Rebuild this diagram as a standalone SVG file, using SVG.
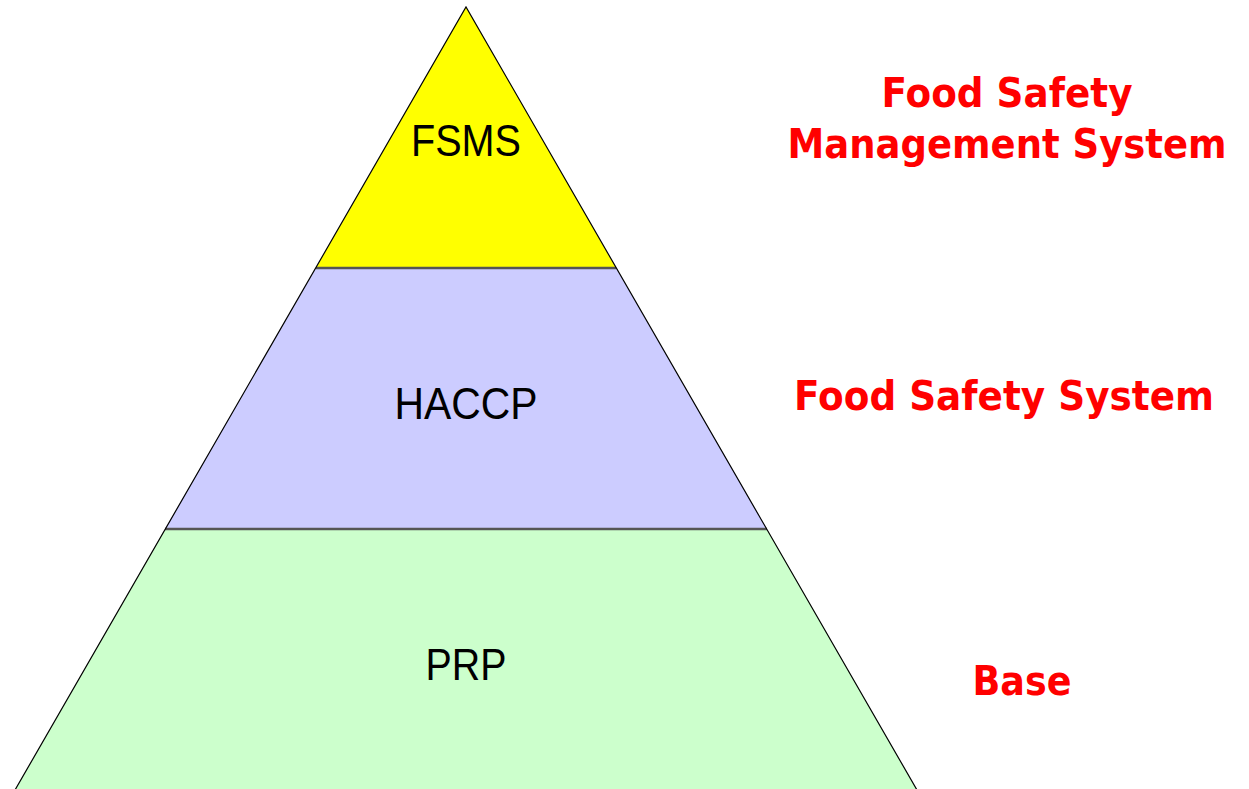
<svg xmlns="http://www.w3.org/2000/svg" width="1249" height="789" viewBox="0 0 1249 789">
<style>
.lbl{font-family:"Liberation Sans",Arial,sans-serif;font-size:45px;fill:#000;text-anchor:middle}
.red{font-family:"DejaVu Sans","Liberation Sans",sans-serif;font-weight:bold;font-size:40px;fill:#FF0000;text-anchor:middle}
.edge{stroke:#000;stroke-width:1.2;fill:none}
.div{stroke:#555;stroke-width:2.5;fill:none}
</style>
<rect width="1249" height="789" fill="#fff"/>
<g id="fsms">
<polygon points="466,7 316,268 616,268" fill="#FFFF00"/>
<text class="lbl" x="466" y="156" textLength="110" lengthAdjust="spacingAndGlyphs">FSMS</text>
</g>
<g id="haccp">
<polygon points="316,268 616,268 767,529 165,529" fill="#CCCCFF"/>
<text class="lbl" x="466" y="419" textLength="143" lengthAdjust="spacingAndGlyphs">HACCP</text>
</g>
<g id="prp">
<polygon points="165,529 767,529 917,790 15,790" fill="#CCFFCC"/>
<text class="lbl" x="466" y="680" textLength="81" lengthAdjust="spacingAndGlyphs">PRP</text>
</g>
<g id="connectors">
<line class="div" x1="316" y1="268" x2="616" y2="268"/>
<line class="div" x1="165" y1="529" x2="767" y2="529"/>
<polyline class="edge" points="15,790 466,7 917,790"/>
</g>
<g id="labels">
<text class="red" x="1007" y="107" textLength="251" lengthAdjust="spacingAndGlyphs">Food Safety</text>
<text class="red" transform="translate(1007,158) scale(0.925,1)" x="0" y="0">Management System</text>
<text class="red" x="1004" y="410" textLength="420" lengthAdjust="spacingAndGlyphs">Food Safety System</text>
<text class="red" x="1022" y="695" textLength="99" lengthAdjust="spacingAndGlyphs">Base</text>
</g>
</svg>
